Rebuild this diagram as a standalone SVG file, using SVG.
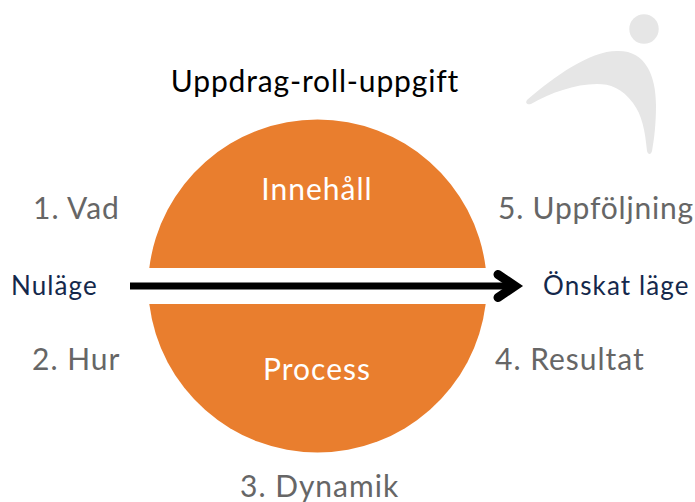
<svg xmlns="http://www.w3.org/2000/svg" width="695" height="502" viewBox="0 0 695 502">
<style>
text{font-family:"Lato","Open Sans","Liberation Sans",sans-serif}
.g{fill:#666;font-size:30px;letter-spacing:1px}
.w{fill:#fff;font-size:30px;text-anchor:middle;letter-spacing:1px}
.n{fill:#14284b;font-size:26px;letter-spacing:1.1px}
.t{fill:#000;font-size:30px;text-anchor:middle;letter-spacing:.85px}
</style>
<rect width="695" height="502" fill="#fff"/>
<g id="logo" fill="#e6e6e6">
<circle cx="644" cy="29" r="14.7"/>
<path d="M527 100C555 76 590 51 617 51C645 50 656 75 656 105C656 125 654 140 652 151C651 155 648 155 647 151C645 130 642 115 633 103C622 88 610 84 597 84C575 84 550 93 531 104C527 105 525 103 527 100Z"/>
</g>
<g id="top-half"><path d="M149.300 268A169.500 169.500 0 0 1 485.700 268Z" fill="#e97e2e"/><text class="w" x="317" y="200">Innehåll</text></g>
<g id="bottom-half"><path d="M149.300 304A169.500 169.500 0 0 0 485.700 304Z" fill="#e97e2e"/><text class="w" x="317" y="380">Process</text></g>
<g id="title"><text class="t" x="315" y="92">Uppdrag-roll-uppgift</text></g>
<g id="l1"><text class="g" x="33" y="219">1. Vad</text></g>
<g id="l2"><text class="g" x="32" y="370">2. Hur</text></g>
<g id="l3"><text class="g" x="240" y="497">3. Dynamik</text></g>
<g id="l4"><text class="g" x="495" y="370">4. Resultat</text></g>
<g id="l5"><text class="g" x="498" y="219" style="letter-spacing:.8px">5. Uppföljning</text></g>
<g id="nulage"><text class="n" x="11" y="295">Nuläge</text></g>
<g id="onskat"><text class="n" x="543" y="295">Önskat läge</text></g>
<g id="connectors" fill="none" stroke="#000" stroke-width="7">
<path d="M130 286H515"/>
<path d="M498 274.500L515 286L498 297.500" stroke-width="9" stroke-linejoin="miter" stroke-linecap="round"/>
</g>
</svg>
